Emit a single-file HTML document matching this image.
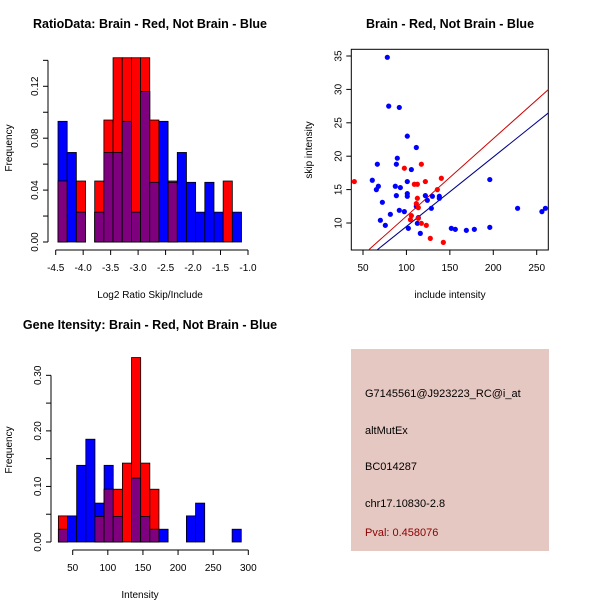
<!DOCTYPE html>
<html><head><meta charset="utf-8"><style>
body{margin:0;background:#fff;}
svg{display:block;font-family:"Liberation Sans",sans-serif;}
</style></head><body>
<svg id="c" width="600" height="600" viewBox="0 0 600 600">
<rect width="600" height="600" fill="#fff"/>
<text x="150" y="28" text-anchor="middle" font-weight="bold" font-size="12.5">RatioData: Brain - Red, Not Brain - Blue</text>
<text x="450" y="28" text-anchor="middle" font-weight="bold" font-size="12.5">Brain - Red, Not Brain - Blue</text>
<text x="150" y="329" text-anchor="middle" font-weight="bold" font-size="12.5">Gene Itensity: Brain - Red, Not Brain - Blue</text>
<text x="150" y="298" text-anchor="middle" font-size="10">Log2 Ratio Skip/Include</text>
<text transform="translate(12,148) rotate(-90)" text-anchor="middle" font-size="10">Frequency</text>
<text x="450" y="298" text-anchor="middle" font-size="10">include intensity</text>
<text transform="translate(312,150) rotate(-90)" text-anchor="middle" font-size="10">skip intensity</text>
<text x="140" y="598" text-anchor="middle" font-size="10">Intensity</text>
<text transform="translate(12,450) rotate(-90)" text-anchor="middle" font-size="10">Frequency</text>
<g>
<rect x="351" y="349" width="198" height="202" fill="#E6C8C2"/>
<text x="365" y="397" font-size="11">G7145561@J923223_RC@i_at</text>
<text x="365" y="434" font-size="11">altMutEx</text>
<text x="365" y="470" font-size="11">BC014287</text>
<text x="365" y="507" font-size="11">chr17.10830-2.8</text>
<text x="365" y="536" font-size="11" fill="#8B0000">Pval: 0.458076</text>
</g>
<g id="g1"></g><g id="g2"></g><g id="g3"></g>
</svg>
<script>
// Ratio histogram data
const ratioBinStart = -4.458;
const ratioBinWidth = 0.167;
const ratioBlue = [0.093,0.069,0.023,0,0.023,0.069,0.069,0.093,0.023,0.116,0.046,0.093,0.046,0.069,0.046,0.023,0.046,0.023,0,0.023];
const ratioRed  = [0.047,0,0.047,0,0.047,0.094,0.142,0.142,0.142,0.142,0.094,0,0.047,0,0,0,0,0,0.047,0];
const ratioXTicks = [-4.5,-4.0,-3.5,-3.0,-2.5,-2.0,-1.5,-1.0];
const ratioYTicks = [0,0.02,0.04,0.06,0.08,0.10,0.12,0.14];
const ratioYLabels = ["0.00","","0.04","","0.08","","0.12",""];
// Intensity histogram data
const intBinStart = 29.6;
const intBinWidth = 13.02;
const intBlue = [0.023,0.047,0.138,0.185,0.070,0.138,0.046,0,0.115,0.046,0.023,0.023,0,0,0.047,0.070,0,0,0,0.023];
const intRed  = [0.047,0,0,0,0.046,0.095,0.095,0.142,0.332,0.142,0.095,0,0,0,0,0,0,0,0,0];
const intXTicks = [50,100,150,200,250,300];
const intYTicks = [0,0.05,0.10,0.15,0.20,0.25,0.30];
const intYLabels = ["0.00","","0.10","","0.20","","0.30"];
// Scatter data
const blueX = [78,79.6,91.8,101,111.4,89.5,88.4,66.5,105.7,196,60.7,101,87.2,93,67.7,65.4,101,101,88.4,121.8,129.9,137.9,137.9,72.3,124.1,111.4,128.7,228,260,256,91.8,97.6,81.5,113.7,70,75.7,112.6,102.2,151.7,156.3,169,178.2,196,116];
const blueY = [34.8,27.5,27.3,23.0,21.3,19.7,18.8,18.8,18.0,16.5,16.4,16.2,15.5,15.3,15.5,15.0,14.4,14.0,14.1,14.1,14.0,14.0,13.7,13.1,13.4,12.5,12.2,12.2,12.2,11.7,11.9,11.7,11.3,10.8,10.4,9.65,9.95,9.2,9.2,9.05,8.9,9.05,9.35,8.45];
const redX = [40,97.6,117.2,109.1,112.6,121.8,140.2,135.6,112.6,111.4,113.7,105.7,104.6,113.7,117.2,122.9,127.5,142.5];
const redY = [16.2,18.2,18.8,15.8,15.8,16.2,16.7,15.0,13.7,12.9,12.3,11.1,10.5,10.7,9.95,9.65,7.7,7.1];
const redFit = [-0.58,0.116];
const blueFit = [-0.92,0.104];
const scXTicks = [50,100,150,200,250];
const scYTicks = [10,15,20,25,30,35];

const NS="http://www.w3.org/2000/svg";
function mk(p,t,a){const e=document.createElementNS(NS,t);for(const k in a)e.setAttribute(k,a[k]);p.appendChild(e);return e;}

function hist(g,name,bs,bw,blue,red,sx,sy,xt,xl,yt,yl,ax){
  const y0=sy(0);
  for(let i=0;i<blue.length;i++){
    const x1=sx(bs+i*bw),x2=sx(bs+(i+1)*bw);
    const b=blue[i],r=red[i],m=Math.min(b,r);
    if(b>0){const e=mk(g,'rect',{x:x1,y:sy(b),width:x2-x1,height:y0-sy(b),fill:'#0000FF',stroke:'#000','stroke-width':0.8});
      
      }
    if(r>0){const e=mk(g,'rect',{x:x1,y:sy(r),width:x2-x1,height:y0-sy(r),fill:'#FF0000',stroke:'#000','stroke-width':0.8});
      
      }
    if(m>0){const e=mk(g,'rect',{x:x1,y:sy(m),width:x2-x1,height:y0-sy(m),fill:'#7F007F',stroke:'#000','stroke-width':0.8});
      
      }
  }
  axes(g,name,sx,sy,xt,xl,yt,yl,ax,true,true);
}
function axes(g,name,sx,sy,xt,xl,yt,yl,ax,xline,yline){
  const xa=mk(g,'g',{});
  
  
  if(xline)mk(xa,'line',{x1:sx(xt[0]),x2:sx(xt[xt.length-1]),y1:ax.xy,y2:ax.xy,stroke:'#000'});
  xt.forEach((v,i)=>{mk(xa,'line',{x1:sx(v),x2:sx(v),y1:ax.xy,y2:ax.xy+5,stroke:'#000'});
    const t=mk(xa,'text',{x:sx(v),y:ax.xy+21,'text-anchor':'middle','font-size':10});t.textContent=xl[i];});
  const ya=mk(g,'g',{});
  
  
  if(yline)mk(ya,'line',{x1:ax.yx,x2:ax.yx,y1:sy(yt[0]),y2:sy(yt[yt.length-1]),stroke:'#000'});
  yt.forEach((v,i)=>{mk(ya,'line',{x1:ax.yx,x2:ax.yx-5,y1:sy(v),y2:sy(v),stroke:'#000'});
    if(yl[i]!==''){const t=mk(ya,'text',{transform:`translate(${ax.yx-10},${sy(v)}) rotate(-90)`,'text-anchor':'middle','font-size':10});t.textContent=yl[i];}});
}
// Plot 1
const s1x=v=>55.7+(v+4.5)*54.94, s1y=v=>242-v*1297.6;
hist(document.getElementById('g1'),'ratio-hist',ratioBinStart,ratioBinWidth,ratioBlue,ratioRed,s1x,s1y,ratioXTicks,ratioXTicks.map(v=>v.toFixed(1)),ratioYTicks,ratioYLabels,{xy:250,yx:48});
// Plot 3
const s3x=v=>72.7+(v-50)*0.7024, s3y=v=>542-v*555.6;
hist(document.getElementById('g3'),'intensity-hist',intBinStart,intBinWidth,intBlue,intRed,s3x,s3y,intXTicks,intXTicks.map(String),intYTicks,intYLabels,{xy:550,yx:51});
// Plot 2
const g2=document.getElementById('g2');
const s2x=v=>363+(v-50)*0.8685, s2y=v=>223-(v-10)*6.68;
const box=mk(g2,'rect',{x:351.3,y:49.3,width:197,height:200.7,fill:'none',stroke:'#000'});


const cp=mk(g2,'clipPath',{id:'cp'});
mk(cp,'rect',{x:351.3,y:49.3,width:197,height:200.7});
axes(g2,'scatter',s2x,s2y,scXTicks,scXTicks.map(String),scYTicks,scYTicks.map(String),{xy:250,yx:351.3},false,false);
[[redFit,'#CC0000','red-fit-line'],[blueFit,'#00008B','blue-fit-line']].forEach(([f,c,n])=>{
  const l=mk(g2,'line',{x1:s2x(30),y1:s2y(f[0]+f[1]*30),x2:s2x(290),y2:s2y(f[0]+f[1]*290),stroke:c,'stroke-width':1,'clip-path':'url(#cp)'});
  
  
});
blueX.forEach((v,i)=>{const c=mk(g2,'circle',{cx:s2x(v),cy:s2y(blueY[i]),r:2.6,fill:'#0000FF'});
  
  });
redX.forEach((v,i)=>{const c=mk(g2,'circle',{cx:s2x(v),cy:s2y(redY[i]),r:2.6,fill:'#FF0000'});
  
  });
</script>
</body></html>
